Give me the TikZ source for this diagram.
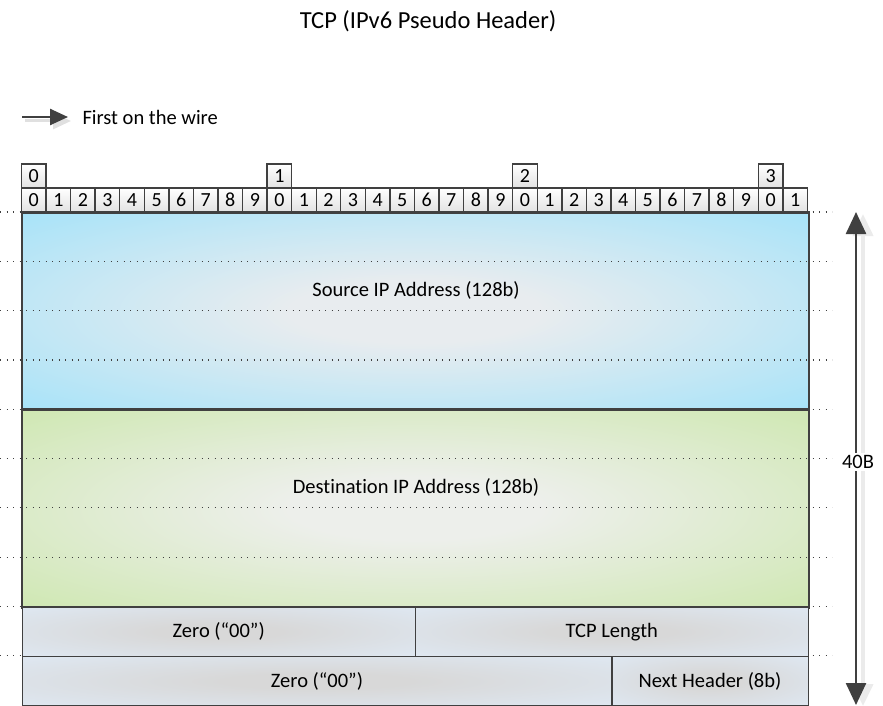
\documentclass[tikz,border=0pt]{standalone}
\usepackage{fontspec}
\setmainfont{Carlito}[Ligatures=CommonOff]
\usetikzlibrary{arrows.meta}
\definecolor{edgec}{HTML}{404040}
\definecolor{blueE}{HTML}{98E1FB}
\definecolor{blueC}{HTML}{E8ECEF}
\definecolor{greenE}{HTML}{C8E6A5}
\definecolor{greenC}{HTML}{EDEFEB}
\definecolor{grayC}{HTML}{D8D8D8}
\definecolor{grayE}{HTML}{DFE9F4}
\definecolor{cellB}{HTML}{E2E2E2}
\pgfdeclareradialshading{shblue}{\pgfpoint{0bp}{0bp}}{color(0bp)=(blueC); color(8bp)=(blueC); color(42bp)=(blueE); color(75bp)=(blueE)}
\pgfdeclareradialshading{shgreen}{\pgfpoint{0bp}{0bp}}{color(0bp)=(greenC); color(8bp)=(greenC); color(42bp)=(greenE); color(75bp)=(greenE)}
\pgfdeclareradialshading{shgray}{\pgfpoint{0bp}{0bp}}{color(0bp)=(grayC); color(8bp)=(grayC); color(38bp)=(grayE); color(75bp)=(grayE)}
\tikzset{
  field/.style={draw=edgec, line width=1.5pt, inner sep=0pt, anchor=north west},
  bitcell/.style={draw=edgec, line width=1.4pt, top color=white, bottom color=cellB,
    minimum width=24.56pt, minimum height=24pt, inner sep=0pt, font=\fontsize{20}{20}\selectfont},
  flabel/.style={font=\fontsize{20.5}{20.5}\selectfont, text=black},
  dotline/.style={edgec, line width=1.2pt, dash pattern=on 1.2pt off 5.3pt},
}
\begin{document}
\begin{tikzpicture}[x=1pt,y=-1pt]
\useasboundingbox (0,0) rectangle (883,706);
% title
\node[font=\fontsize{24.5}{24.5}\selectfont] (title) at (428,21) {TCP (IPv6 Pseudo Header)};
% first on the wire
\coordinate (w0) at (22,117);
\coordinate (w1) at (68,117);
\coordinate (ws0) at (25,121);
\coordinate (ws1) at (71,121);
\draw[black!12, line width=3pt, -{Triangle[length=18pt,width=16pt]}] (ws0) -- (ws1);
\draw[edgec, line width=2.5pt, -{Triangle[length=18pt,width=16pt]}] (w0) -- (w1);
\node[flabel, anchor=west] (wire) at (79,117) {First on the wire};
% fields
\node[field, shading=shblue, minimum width=786pt, minimum height=197.2pt] (src) at (21.5,212) {};
\node[field, shading=shgreen, minimum width=786pt, minimum height=197.2pt] (dst) at (21.5,409.2) {};
% dotted lines
\foreach \k in {0,...,9}{
  \draw[dotline] (0,212+49.3*\k) -- (832,212+49.3*\k);
}
\draw[edgec, line width=1.5pt] (src.north west) rectangle (src.south east);
\draw[edgec, line width=1.5pt] (dst.north west) rectangle (dst.south east);
\node[flabel] (srclabel) at (416,290) {Source IP Address (128b)};
\node[flabel] (dstlabel) at (416,487) {Destination IP Address (128b)};
% lower rows
\node[field, shading=shgray, minimum width=393pt, minimum height=49.3pt] (zero1) at (21.5,606.4) {};
\node[field, shading=shgray, minimum width=393pt, minimum height=49.3pt] (tcplen) at (414.5,606.4) {};
\node[field, shading=shgray, minimum width=589.5pt, minimum height=49.3pt] (zero2) at (21.5,655.7) {};
\node[field, shading=shgray, minimum width=196.5pt, minimum height=49.3pt] (nexth) at (611,655.7) {};
\node[flabel] at (zero1.center) {Zero (“00”)};
\node[flabel] at (tcplen.center) {TCP Length};
\node[flabel] at (zero2.center) {Zero (“00”)};
\node[flabel] at (nexth.center) {Next Header (8b)};
% bit cells
\foreach \i in {0,...,31}{
  \pgfmathtruncatemacro\d{mod(\i,10)}
  \node[bitcell] (b\i) at (21.5+24.56*\i+12.28,200) {\d};
}
\foreach \i/\t in {0/0,10/1,20/2,30/3}{
  \node[bitcell] (t\i) at (21.5+24.56*\i+12.28,176) {\t};
}
% size arrow
\coordinate (a0) at (856,212);
\coordinate (a1) at (856,705);
\coordinate (as0) at (863,214);
\coordinate (as1) at (863,706);
\draw[black!8, line width=4pt, {Triangle[length=22pt,width=20pt]}-{Triangle[length=22pt,width=20pt]}] (as0) -- (as1);
\draw[edgec, line width=2.5pt, {Triangle[length=22pt,width=20pt]}-{Triangle[length=22pt,width=20pt]}] (a0) -- (a1);
\node[flabel, fill=white, inner sep=2pt] (size) at (858,462) {40B};
\end{tikzpicture}
\end{document}
